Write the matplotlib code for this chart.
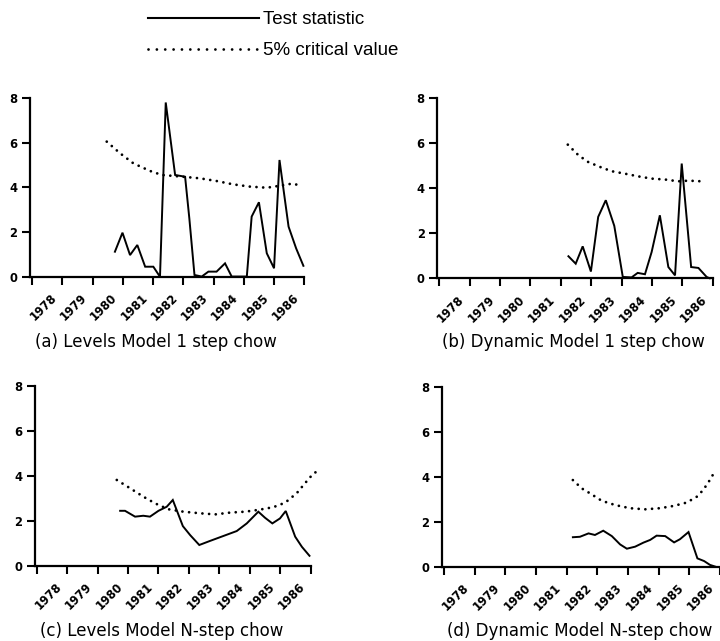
import matplotlib
matplotlib.use("Agg")
import matplotlib.pyplot as plt
from matplotlib.lines import Line2D

# ---------------- data ----------------
years = [1978, 1979, 1980, 1981, 1982, 1983, 1984, 1985, 1986]
year_ticks = [1978, 1979, 1980, 1981, 1982, 1983, 1984, 1985, 1986, 1987]
yticks = [0, 2, 4, 6, 8]

captions = ["(a) Levels Model 1 step chow",
            "(b) Dynamic Model 1 step chow",
            "(c) Levels Model N-step chow",
            "(d) Dynamic Model N-step chow"]
legend_labels = ["Test statistic", "5% critical value"]

# (a) Levels model, 1-step chow
a_stat_t = [1980.74, 1980.99, 1981.24, 1981.48, 1981.74, 1982.01, 1982.23, 1982.42,
            1982.73, 1983.06, 1983.20, 1983.37, 1983.61, 1983.83, 1984.10, 1984.38,
            1984.60, 1985.10, 1985.26, 1985.50, 1985.76, 1986.00, 1986.18, 1986.48,
            1986.73, 1986.97]
a_stat_v = [1.13, 1.98, 0.98, 1.43, 0.46, 0.46, 0.01, 7.8, 4.56, 4.48, 2.62, 0.09,
            0.02, 0.24, 0.24, 0.61, 0.02, 0.02, 2.7, 3.34, 1.06, 0.39, 5.23, 2.25,
            1.28, 0.5]
a_crit_t = [1980.47, 1980.91, 1981.35, 1981.9, 1982.29, 1983.0, 1983.55, 1984.1,
            1984.65, 1985.2, 1985.76, 1986.2, 1986.58, 1986.83]
a_crit_v = [6.05, 5.53, 5.08, 4.74, 4.56, 4.48, 4.41, 4.29, 4.14, 4.04, 3.99, 4.08,
            4.17, 4.11]

# (b) Dynamic model, 1-step chow
b_stat_t = [1982.25, 1982.49, 1982.72, 1982.99, 1983.23, 1983.48, 1983.76, 1984.04,
            1984.33, 1984.53, 1984.77, 1984.99, 1985.26, 1985.54, 1985.76, 1985.98,
            1986.29, 1986.53, 1986.80, 1986.9]
b_stat_v = [0.98, 0.65, 1.42, 0.3, 2.73, 3.47, 2.33, 0.06, 0.04, 0.24, 0.18, 1.17,
            2.8, 0.5, 0.13, 5.1, 0.5, 0.46, 0.06, 0.0]
b_crit_t = [1982.23, 1982.58, 1982.9, 1983.29, 1983.67, 1984.11, 1984.55, 1984.99,
            1985.43, 1985.87, 1986.2, 1986.64]
b_crit_v = [5.94, 5.47, 5.17, 4.95, 4.76, 4.65, 4.53, 4.43, 4.39, 4.31, 4.34, 4.31]

# (c) Levels model, N-step chow
c_stat_t = [1980.74, 1980.9, 1981.23, 1981.5, 1981.72, 1982.0, 1982.27, 1982.47,
            1982.8, 1983.04, 1983.34, 1983.69, 1984.13, 1984.57, 1984.9, 1985.28,
            1985.5, 1985.74, 1985.99, 1986.18, 1986.49, 1986.71, 1986.96]
c_stat_v = [2.44, 2.44, 2.18, 2.22, 2.18, 2.44, 2.62, 2.92, 1.76, 1.36, 0.92, 1.1,
            1.32, 1.54, 1.88, 2.4, 2.13, 1.88, 2.1, 2.43, 1.29, 0.84, 0.44]
c_crit_t = [1980.63, 1981.07, 1981.5, 1981.89, 1982.32, 1982.82, 1983.36, 1983.86,
            1984.35, 1984.84, 1985.28, 1985.77, 1986.16, 1986.54, 1986.81, 1987.09,
            1987.2]
c_crit_v = [3.81, 3.44, 3.07, 2.77, 2.51, 2.4, 2.33, 2.28, 2.36, 2.4, 2.48, 2.6,
            2.8, 3.22, 3.66, 4.1, 4.18]

# (d) Dynamic model, N-step chow
d_stat_t = [1982.2, 1982.43, 1982.71, 1982.92, 1983.19, 1983.47, 1983.74, 1983.96,
            1984.23, 1984.5, 1984.72, 1984.93, 1985.21, 1985.5, 1985.69, 1985.97,
            1986.26, 1986.48, 1986.67, 1986.85]
d_stat_v = [1.31, 1.33, 1.48, 1.41, 1.6, 1.36, 0.99, 0.8, 0.89, 1.07, 1.19, 1.38,
            1.36, 1.08, 1.22, 1.54, 0.37, 0.25, 0.08, 0.0]
d_crit_t = [1982.2, 1982.49, 1982.76, 1983.14, 1983.58, 1984.06, 1984.55, 1985.04,
            1985.48, 1985.91, 1986.24, 1986.45, 1986.65, 1986.78]
d_crit_v = [3.85, 3.48, 3.26, 2.93, 2.74, 2.6, 2.55, 2.6, 2.7, 2.85, 3.11, 3.41,
            3.82, 4.12]

panels = [
    (a_stat_t, a_stat_v, a_crit_t, a_crit_v),
    (b_stat_t, b_stat_v, b_crit_t, b_crit_v),
    (c_stat_t, c_stat_v, c_crit_t, c_crit_v),
    (d_stat_t, d_stat_v, d_crit_t, d_crit_v),
]

# ---------------- layout (pixels) ----------------
W, H = 720, 641
# left, y of x-axis (from top), width, height
rects = [
    (29.9, 277.0, 274.4, 179.0),
    (437.2, 278.3, 275.5, 180.0),
    (34.6, 565.7, 276.1, 180.0),
    (441.9, 566.7, 278.2, 180.0),
]
caption_y = [342, 342, 631, 631]

fig = plt.figure(figsize=(W / 100, H / 100), dpi=100)

tick_font = dict(family="DejaVu Sans", weight="bold", size=8.3)

for (st_t, st_v, cr_t, cr_v), (l, y0, w, h), cap, cy in zip(panels, rects, captions, caption_y):
    ax = fig.add_axes([l / W, 1 - y0 / H, w / W, h / H])
    ax.plot(st_t, st_v, color="black", lw=1.4, clip_on=False, solid_joinstyle="miter")
    ax.plot(cr_t, cr_v, color="black", lw=2.0, linestyle=(0, (0.01, 2.4)),
            dash_capstyle="round", clip_on=False)

    ax.set_xlim(1977.93, 1987.0)
    ax.set_ylim(0, 8)
    for s in ("top", "right"):
        ax.spines[s].set_visible(False)
    for s in ("left", "bottom"):
        ax.spines[s].set_linewidth(1.6)

    ax.set_xticks(year_ticks)
    ax.set_xticklabels([])
    ax.set_xticks([y + 0.6 for y in years], minor=True)
    ax.set_xticklabels([str(y) for y in years], minor=True, rotation=45,
                       ha="right", va="top", rotation_mode="anchor", **tick_font)
    ax.tick_params(axis="x", which="major", direction="out", length=5.5, width=1.5)
    ax.tick_params(axis="x", which="minor", length=0, pad=10.5)

    ax.set_yticks(yticks)
    ax.set_yticklabels([str(v) for v in yticks], **tick_font)
    ax.tick_params(axis="y", direction="out", length=6, width=1.5, pad=3)

    fig.text((l + 5) / W, 1 - cy / H, cap, family="DejaVu Sans", size=12,
             ha="left", va="center")

handles = [
    Line2D([], [], color="black", lw=1.5),
    Line2D([], [], color="black", lw=2.0, linestyle=(0, (0.01, 3.0)),
           dash_capstyle="round"),
]
fig.legend(handles, legend_labels, loc="upper left",
           bbox_to_anchor=(148 / W, 1 - 11 / H), frameon=False,
           prop={"family": "Liberation Sans", "size": 13.5},
           handlelength=5.9, handletextpad=0.25, labelspacing=0.75,
           borderpad=0, borderaxespad=0)

fig.savefig("out.png", dpi=100)
